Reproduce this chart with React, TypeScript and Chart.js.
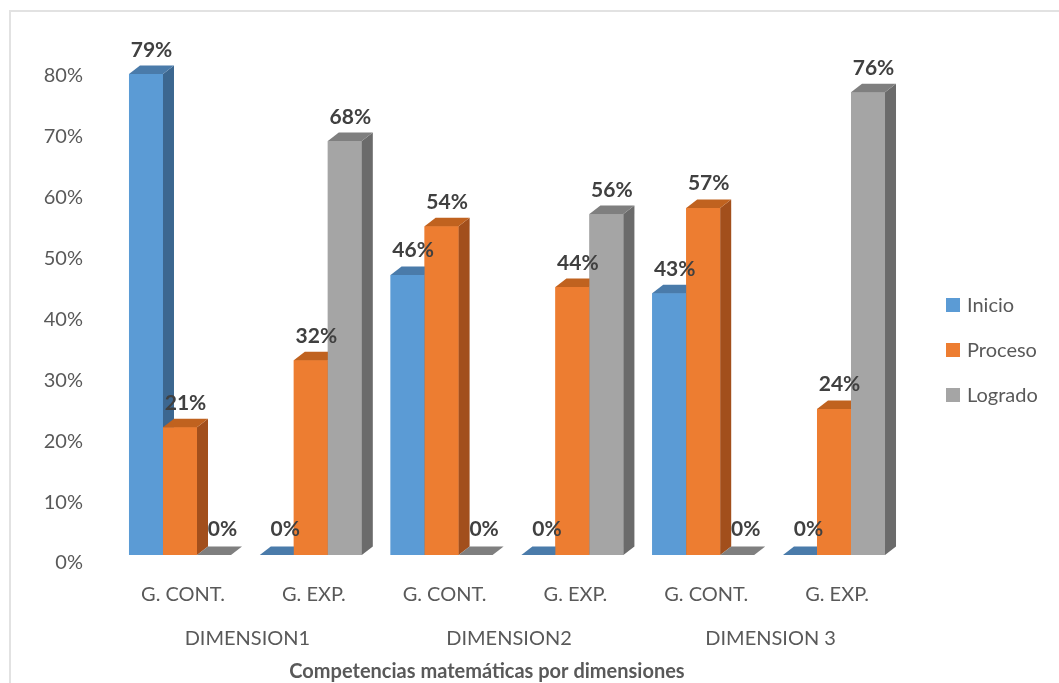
import React, { useEffect, useRef } from "react";
import { Chart, registerables } from "chart.js";

Chart.register(...registerables);

// Categories, groups and series values (percentages)
const categories = ["G. CONT.", "G. EXP.", "G. CONT.", "G. EXP.", "G. CONT.", "G. EXP."];
const groupLabels = ["DIMENSION1", "DIMENSION2", "DIMENSION 3"];
const seriesNames = ["Inicio", "Proceso", "Logrado"];
const inicio = [79, 0, 46, 0, 43, 0];
const proceso = [21, 32, 54, 44, 57, 24];
const logrado = [0, 68, 0, 56, 0, 76];
const yTicks = [0, 10, 20, 30, 40, 50, 60, 70, 80];
const chartTitle = "Competencias matemáticas por dimensiones";

// Face colours for the pseudo-3D columns: front, side, top
const faceColors = [
  { front: "#5B9BD5", side: "#3C6790", top: "#4A7BAA" },
  { front: "#ED7D31", side: "#A24F1C", top: "#C0621F" },
  { front: "#A5A5A5", side: "#6B6B6B", top: "#7F7F7F" },
];

const DEPTH_X = 11;
const DEPTH_Y = -8.5;
const FONT = "Lato, 'Open Sans', sans-serif";
const TEXT_GREY = "#595959";

function poly(ctx: CanvasRenderingContext2D, pts: number[][], color: string) {
  ctx.beginPath();
  ctx.moveTo(pts[0][0], pts[0][1]);
  for (let i = 1; i < pts.length; i++) ctx.lineTo(pts[i][0], pts[i][1]);
  ctx.closePath();
  ctx.fillStyle = color;
  ctx.fill();
}

// Builds each column as front + side + top faces, series by series,
// so that later series sit in front of the earlier ones' side faces
const columns3d = {
  id: "columns3d",
  afterDatasetsDraw(chart: any) {
    const ctx = chart.ctx as CanvasRenderingContext2D;
    ctx.save();
    chart.data.datasets.forEach((_ds: any, di: number) => {
      const col = faceColors[di];
      chart.getDatasetMeta(di).data.forEach((bar: any) => {
        const { x, y, base, width } = bar.getProps(["x", "y", "base", "width"], true);
        const l = x - width / 2;
        const r = x + width / 2;
        if (base - y > 0.5) {
          ctx.fillStyle = col.front;
          ctx.fillRect(l, y, width, base - y);
          poly(ctx, [[r, y], [r + DEPTH_X, y + DEPTH_Y], [r + DEPTH_X, base + DEPTH_Y], [r, base]], col.side);
        }
        poly(ctx, [[l, y], [l + DEPTH_X, y + DEPTH_Y], [r + DEPTH_X, y + DEPTH_Y], [r, y]], col.top);
      });
    });
    ctx.restore();
  },
  afterDraw(chart: any) {
    const ctx = chart.ctx as CanvasRenderingContext2D;
    ctx.save();

    // value labels above each column
    ctx.font = `bold 21px ${FONT}`;
    ctx.fillStyle = "#404040";
    ctx.textAlign = "center";
    ctx.textBaseline = "alphabetic";
    chart.data.datasets.forEach((ds: any, di: number) => {
      const meta = chart.getDatasetMeta(di);
      meta.data.forEach((bar: any, i: number) => {
        const { x, y } = bar.getProps(["x", "y"], true);
        const v = ds.data[i];
        const lift = v === 0 ? 11 : 9;
        ctx.fillText(`${v}%`, x + DEPTH_X / 2 + (v === 0 ? 3 : 0), y + DEPTH_Y - lift);
      });
    });

    // group labels under pairs of categories
    const xs = chart.scales.x;
    ctx.font = `20px ${FONT}`;
    ctx.fillStyle = TEXT_GREY;
    ctx.textBaseline = "middle";
    groupLabels.forEach((g, gi) => {
      const cx = (xs.getPixelForValue(gi * 2) + xs.getPixelForValue(gi * 2 + 1)) / 2;
      ctx.fillText(g, cx + 2, 639);
    });

    // axis title
    ctx.font = `bold 20px ${FONT}`;
    ctx.fillText(chartTitle, 487, 672);

    // legend
    ctx.textAlign = "left";
    ctx.font = `20px ${FONT}`;
    seriesNames.forEach((name, i) => {
      const cy = 305 + i * 45;
      ctx.fillStyle = faceColors[i].front;
      ctx.fillRect(946, cy - 7, 14, 14);
      ctx.fillStyle = TEXT_GREY;
      ctx.fillText(name, 967, cy + 1);
    });

    ctx.restore();
  },
};

export default function App() {
  const ref = useRef<HTMLCanvasElement>(null);

  useEffect(() => {
    if (!ref.current) return;
    const series = [inicio, proceso, logrado];
    const chart = new Chart(ref.current, {
      type: "bar",
      data: {
        labels: categories,
        datasets: series.map((data, i) => ({
          label: seriesNames[i],
          data,
          backgroundColor: faceColors[i].front,
          borderWidth: 0,
          categoryPercentage: 0.78,
          barPercentage: 1,
        })),
      },
      options: {
        responsive: false,
        animation: false,
        layout: { padding: { left: 0, right: 159.6, top: 38.4, bottom: 0 } },
        plugins: {
          legend: { display: false },
          title: { display: false },
          tooltip: { enabled: false },
        },
        scales: {
          x: {
            grid: { display: false, drawTicks: false },
            border: { display: false },
            ticks: {
              color: TEXT_GREY,
              font: { family: FONT, size: 20 },
              padding: 28,
              maxRotation: 0,
              labelOffset: 3,
            },
            afterFit: (s: any) => {
              s.height = 128;
            },
          },
          y: {
            min: 0,
            max: 84,
            grid: { display: false, drawTicks: false },
            border: { display: false },
            ticks: {
              stepSize: 10,
              color: TEXT_GREY,
              font: { family: FONT, size: 20 },
              padding: 31.6,
              labelOffset: 8,
              callback: (v: any) => `${v}%`,
            },
            afterBuildTicks: (s: any) => {
              s.ticks = yTicks.map((value) => ({ value }));
            },
            afterFit: (s: any) => {
              s.width = 114.6;
            },
          },
        },
      },
      plugins: [columns3d],
    });
    return () => chart.destroy();
  }, []);

  return (
    <div style={{ position: "fixed", left: 0, top: 0, width: 1059, height: 683, background: "#fff" }}>
      <div
        style={{
          position: "absolute",
          left: 9,
          top: 10,
          width: 1060,
          height: 690,
          borderLeft: "2px solid #e2e2e2",
          borderTop: "2px solid #e2e2e2",
          boxSizing: "border-box",
        }}
      />
      <canvas ref={ref} width={1059} height={683} style={{ position: "absolute", left: 0, top: 0 }} />
    </div>
  );
}
